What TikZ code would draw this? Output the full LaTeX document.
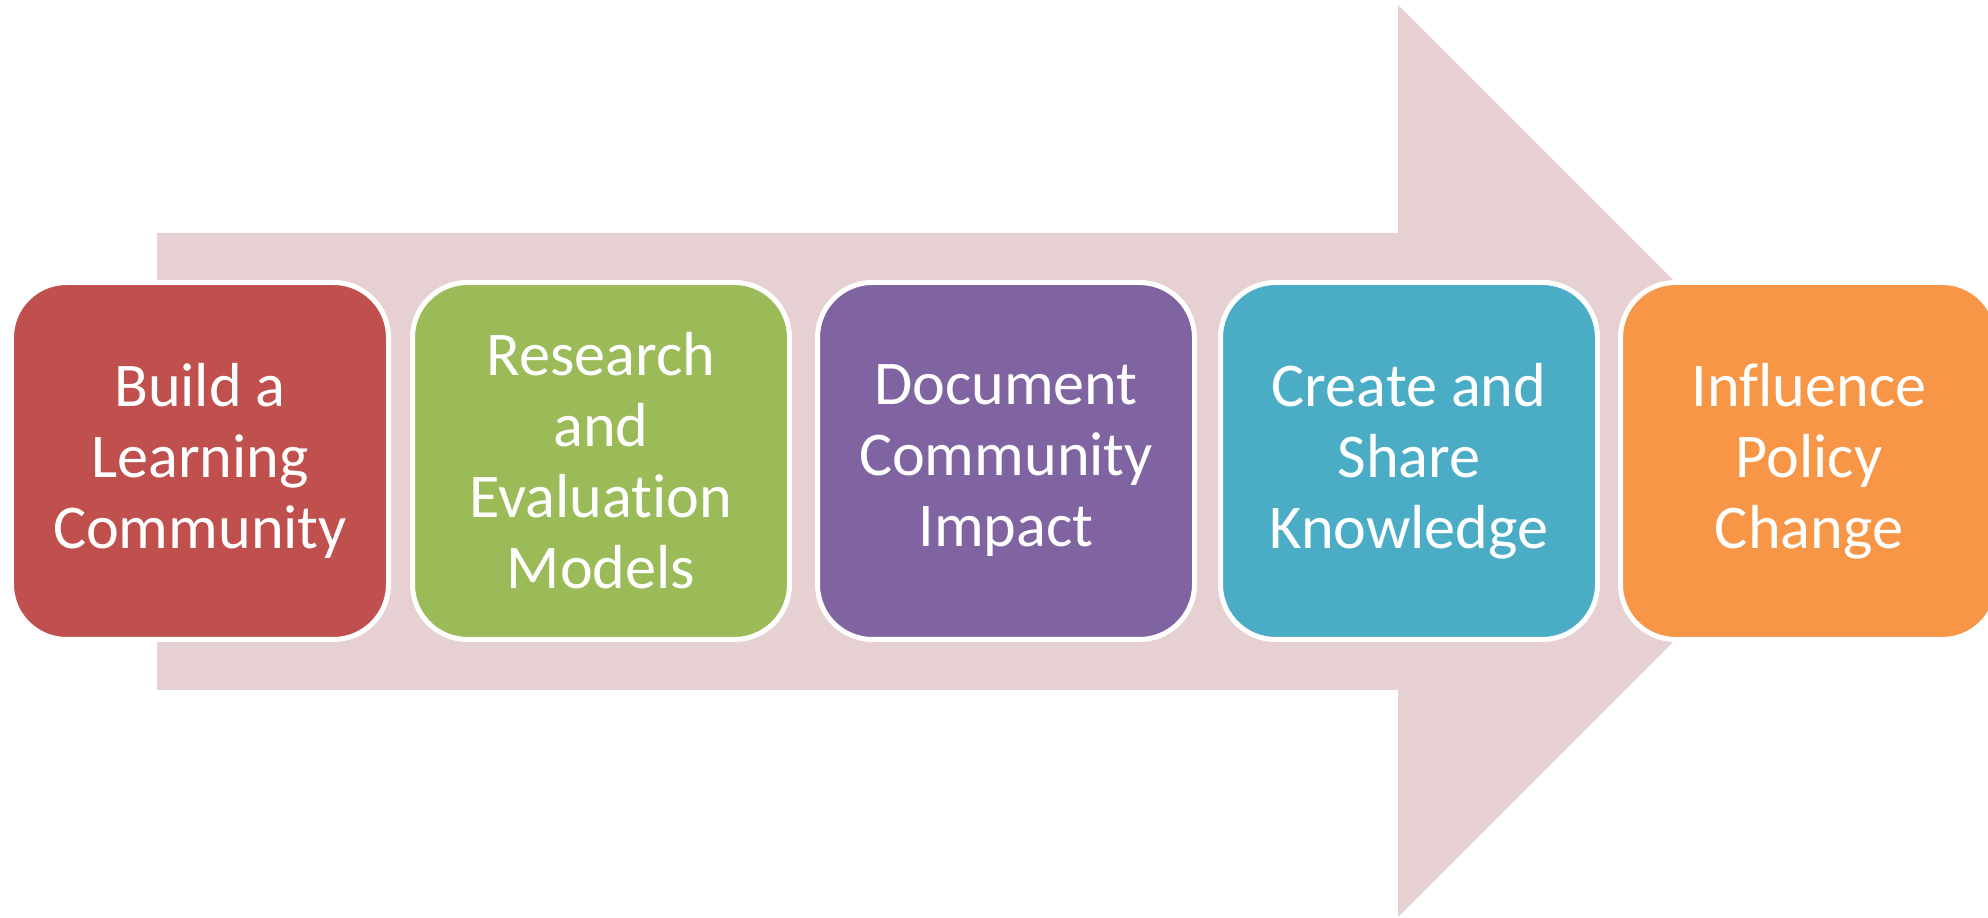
\documentclass[tikz,border=0pt]{standalone}
\usepackage{fontspec}
\setmainfont{Carlito}[Ligatures=NoCommon, RawFeature={-liga;-clig}]
\usepackage{tikz}

\definecolor{stagered}{RGB}{192,80,77}
\definecolor{stagegreen}{RGB}{155,187,89}
\definecolor{stagepurple}{RGB}{128,100,162}
\definecolor{stageblue}{RGB}{75,172,198}
\definecolor{stageorange}{RGB}{247,150,70}
\definecolor{arrowpink}{RGB}{230,208,209}

\begin{document}
\begin{tikzpicture}[
  stage/.style={draw=white, line width=0.05cm, rounded corners=0.55cm,
    minimum width=3.77cm, minimum height=3.57cm, text=white, align=center,
    font=\fontsize{17.7}{20.2}\selectfont}
]
  \clip (0,0) rectangle (19.88,9.18);

  \fill [arrowpink] (1.57,2.28) -- (13.98,2.28) -- (13.98,0.01) -- (18.54,4.57)
    -- (13.98,9.13) -- (13.98,6.85) -- (1.57,6.85) -- cycle;

  \node [stage, fill=stagered] (build) at (2.00,4.57) {Build a\\Learning\\Community};

  \node [stage, fill=stagegreen] (research) at (6.01,4.57) {Research\\and\\Evaluation\\Models};

  \node [stage, fill=stagepurple] (document) at (10.06,4.57) {Document\\Community\\Impact};

  \node [stage, fill=stageblue] (share) at (14.09,4.57) {Create and\\Share\\Knowledge};

  \node [stage, fill=stageorange] (policy) at (18.09,4.57) {Influence\\Policy\\Change};
\end{tikzpicture}
\end{document}
